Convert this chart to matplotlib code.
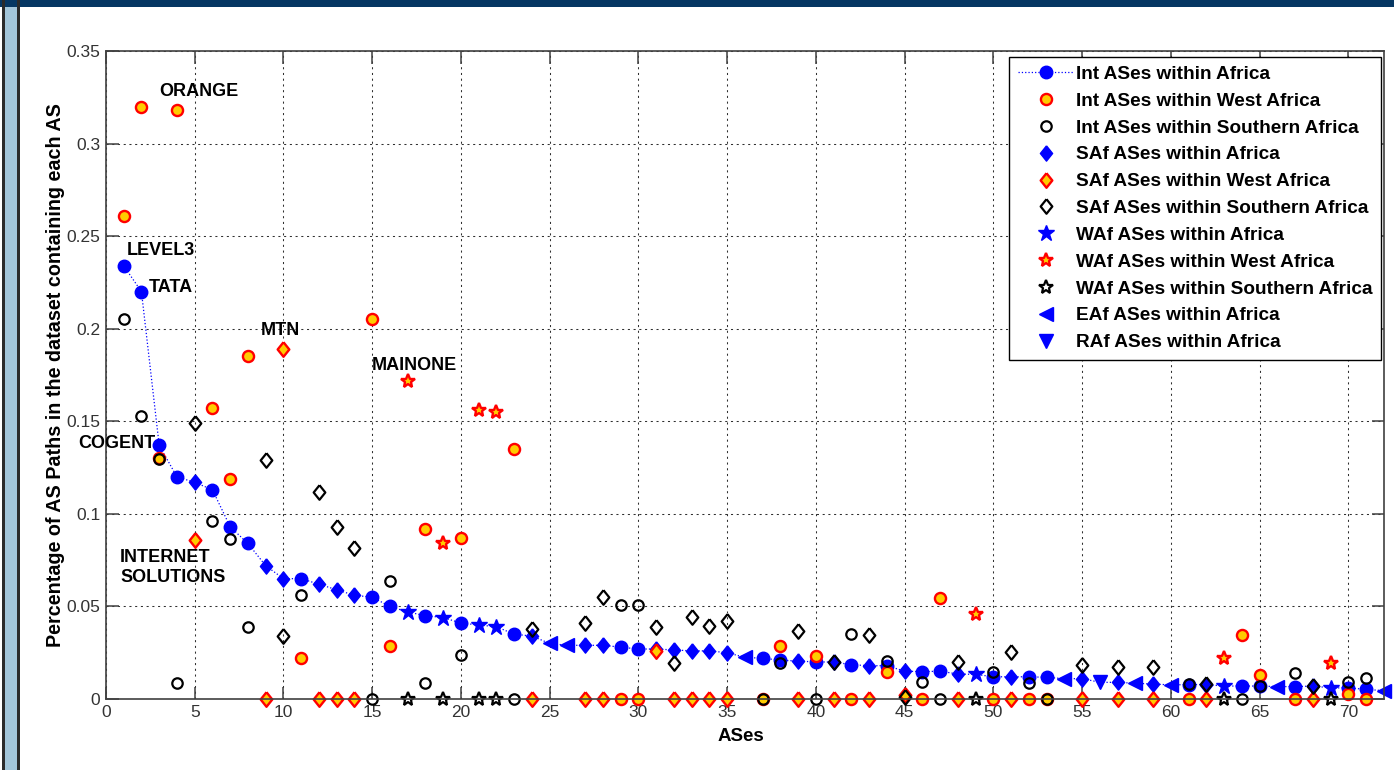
import numpy as np
import matplotlib
matplotlib.use("Agg")
import matplotlib.pyplot as plt
from matplotlib.patches import Rectangle

plt.rcParams['font.family'] = ['Liberation Sans', 'DejaVu Sans']

# ASes ranked by their share of paths within Africa
as_type = ["Int", "Int", "Int", "Int", "SAf", "Int", "Int", "Int", "SAf", "SAf",
           "Int", "SAf", "SAf", "SAf", "Int", "Int", "WAf", "Int", "WAf", "Int",
           "WAf", "WAf", "Int", "SAf", "EAf", "EAf", "SAf", "SAf", "Int", "Int",
           "SAf", "SAf", "SAf", "SAf", "SAf", "EAf", "Int", "Int", "SAf", "Int",
           "SAf", "Int", "SAf", "Int", "SAf", "Int", "Int", "SAf", "WAf", "Int",
           "SAf", "Int", "Int", "EAf", "SAf", "RAf", "SAf", "EAf", "SAf", "EAf",
           "Int", "SAf", "WAf", "Int", "Int", "EAf", "Int", "SAf", "WAf", "Int",
           "Int", "EAf"]

africa = [0.234, 0.220, 0.137, 0.120, 0.117, 0.113, 0.093, 0.084, 0.072, 0.065,
          0.065, 0.062, 0.059, 0.056, 0.055, 0.050, 0.047, 0.045, 0.044, 0.041,
          0.040, 0.039, 0.035, 0.034, 0.030, 0.029, 0.029, 0.029, 0.028, 0.027,
          0.027, 0.0265, 0.026, 0.026, 0.025, 0.0225, 0.022, 0.021, 0.0205, 0.020,
          0.020, 0.0185, 0.018, 0.018, 0.015, 0.0148, 0.015, 0.0135, 0.0133, 0.012,
          0.012, 0.012, 0.0117, 0.011, 0.011, 0.009, 0.009, 0.0085, 0.0081, 0.0076,
          0.0078, 0.0078, 0.007, 0.007, 0.007, 0.0067, 0.0067, 0.007, 0.006, 0.006,
          0.0052, 0.0045]

west = [0.261, 0.320, 0.130, 0.318, 0.086, 0.157, 0.119, 0.185, 0.0, 0.189,
        0.022, 0.0, 0.0, 0.0, 0.205, 0.0286, 0.172, 0.092, 0.084, 0.087,
        0.156, 0.155, 0.135, 0.0, None, None, 0.0, 0.0, 0.0, 0.0,
        0.026, 0.0, 0.0, 0.0, 0.0, None, 0.0, 0.0286, 0.0, 0.0232,
        0.0, 0.0, 0.0, 0.0144, 0.002, 0.0, 0.0544, 0.0, 0.0457, 0.0,
        0.0, 0.0, 0.0, None, 0.0, None, 0.0, None, 0.0, None,
        0.0, 0.0, 0.022, 0.0346, 0.013, None, 0.0, 0.0, 0.0192, 0.0027,
        0.0, None]

south = [0.205, 0.153, 0.1297, 0.0088, 0.149, 0.096, 0.0864, 0.039, 0.129, 0.034,
         0.056, 0.112, 0.093, 0.0815, 0.0, 0.064, 0.0, 0.0085, 0.0, 0.0238,
         0.0, 0.0, 0.0, 0.0377, None, None, 0.0412, 0.0553, 0.0508, 0.0508,
         0.0388, 0.0194, 0.0443, 0.0396, 0.0421, None, 0.0, 0.0193, 0.0369, 0.0,
         0.0202, 0.0351, 0.0346, 0.0205, 0.001, 0.009, 0.0, 0.0202, 0.0, 0.0148,
         0.0255, 0.0085, 0.0, None, 0.0184, None, 0.0171, None, 0.0171, None,
         0.0081, 0.0081, 0.0, 0.0, 0.007, None, 0.0138, 0.007, 0.0, 0.0094,
         0.0111, None]

labels = {"ORANGE": (3.0, 0.328), "LEVEL3": (1.2, 0.242), "TATA": (2.4, 0.222),
          "MTN": (8.7, 0.199), "MAINONE": (15.0, 0.180), "COGENT": (2.8, 0.138),
          "INTERNET\nSOLUTIONS": (0.8, 0.071)}

x = np.arange(1, len(africa) + 1)
as_type = np.array(as_type)
africa = np.array(africa, dtype=float)
west = np.array([np.nan if v is None else v for v in west])
south = np.array([np.nan if v is None else v for v in south])

diamond = [(0, 1), (0.8, 0), (0, -1), (-0.8, 0), (0, 1)]
# marker, size for Africa / West / Southern series
shapes = {"Int": ("o", 9, 8, 7.5), "SAf": (diamond, 11, 10.5, 10.5),
          "WAf": ("*", 12, 10.5, 10), "EAf": ("<", 10, 0, 0), "RAf": ("v", 10, 0, 0)}
gold = (1.0, 0.8, 0.0)

fig = plt.figure(figsize=(13.94, 7.70), dpi=100)
ax = fig.add_axes([0.0760, 0.0922, 0.9168, 0.8416])

for t in ["Int", "SAf", "WAf", "EAf", "RAf"]:
    m, s_af, s_w, s_s = shapes[t]
    sel = as_type == t
    if t == "Int":
        # dotted line runs through the whole ranking, markers only on Int ASes
        ax.plot(x, africa, ls=':', color='blue', lw=0.9, marker=m, ms=s_af,
                mfc='blue', mec='blue', mew=1, markevery=list(np.where(sel)[0]),
                clip_on=False, label=t + " ASes within Africa")
    else:
        ax.plot(x[sel], africa[sel], ls='none', marker=m, ms=s_af, mfc='blue',
                mec='blue', mew=1, clip_on=False, label=t + " ASes within Africa")
    if t in ("EAf", "RAf"):
        continue
    ax.plot(x[sel], west[sel], ls='none', marker=m, ms=s_w, mfc=gold, mec='red',
            mew=1.7, clip_on=False, label=t + " ASes within West Africa")
    ax.plot(x[sel], south[sel], ls='none', marker=m, ms=s_s, mfc='none',
            mec='black', mew=1.6, clip_on=False, label=t + " ASes within Southern Africa")

for txt, (tx, ty) in labels.items():
    ha = 'right' if txt == "COGENT" else 'left'
    ax.text(tx, ty, txt, ha=ha, va='center', fontsize=13, fontweight='bold',
            linespacing=1.2)

ax.set_xlim(0, 72)
ax.set_ylim(0, 0.35)
ax.set_xticks(np.arange(0, 71, 5))
ax.set_yticks(np.arange(0, 0.351, 0.05))
ax.set_yticklabels(["0", "0.05", "0.1", "0.15", "0.2", "0.25", "0.3", "0.35"])
ax.tick_params(direction='in', length=9, width=1.1, top=True, right=True,
               colors='#404040', labelsize=12.5, labelcolor='#333333')
ax.tick_params(axis='x', pad=4)
ax.tick_params(axis='y', pad=4)
for sp in ax.spines.values():
    sp.set_color('#404040')
    sp.set_linewidth(1.2)
ax.grid(True, color='#303030', lw=0.75, ls=(0, (2, 3.5)))
ax.set_axisbelow(True)

ax.set_xlabel("ASes", fontsize=13.5, fontweight='bold')
ax.set_ylabel("Percentage of AS Paths in the dataset containing each AS",
              fontsize=14.2, fontweight='bold')
ax.xaxis.set_label_coords(0.497, -0.045)
ax.yaxis.set_label_coords(-0.032, 0.5)

leg = ax.legend(loc='upper right', bbox_to_anchor=(0.9977, 0.9907),
                borderaxespad=0, prop={'weight': 'bold', 'size': 13.7},
                numpoints=1, handlelength=2.9, handletextpad=0.15,
                labelspacing=0.5, borderpad=0.45, fancybox=False, framealpha=1)
leg.get_frame().set_edgecolor('black')
leg.get_frame().set_linewidth(1.0)

# window frame around the figure
fig.add_artist(Rectangle((0, 1 - 7 / 770), 1, 7 / 770, transform=fig.transFigure,
                         color='#063763', lw=0))
fig.add_artist(Rectangle((2 / 1394, 0), 2.5 / 1394, 1, transform=fig.transFigure,
                         color='#2b2b2b', lw=0))
fig.add_artist(Rectangle((4.5 / 1394, 0), 12.5 / 1394, 1 - 7 / 770,
                         transform=fig.transFigure, color='#a3c6da', lw=0))
fig.add_artist(Rectangle((17 / 1394, 0), 2.5 / 1394, 1, transform=fig.transFigure,
                         color='#2b2b2b', lw=0))

fig.savefig("out.png", dpi=100)
